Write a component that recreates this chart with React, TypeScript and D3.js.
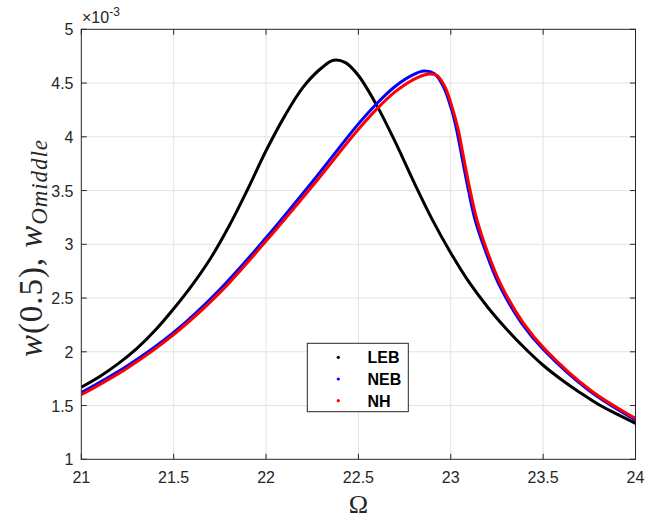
import React from "react";
import * as d3 from "d3";

const X_TICKS = [21, 21.5, 22, 22.5, 23, 23.5, 24];
const Y_TICKS = [1, 1.5, 2, 2.5, 3, 3.5, 4, 4.5, 5];

const LEB_X = [21.0, 21.1, 21.2, 21.3, 21.4, 21.5, 21.6, 21.7, 21.8, 21.9, 22.0, 22.1, 22.2, 22.3, 22.366, 22.43, 22.5, 22.6, 22.7, 22.8, 22.9, 23.0, 23.1, 23.2, 23.3, 23.4, 23.5, 23.6, 23.7, 23.8, 23.9, 24.0];
const LEB_Y = [1.67, 1.77, 1.89, 2.03, 2.20, 2.40, 2.62, 2.87, 3.17, 3.51, 3.87, 4.19, 4.46, 4.64, 4.712, 4.69, 4.57, 4.29, 3.95, 3.58, 3.23, 2.92, 2.645, 2.415, 2.215, 2.035, 1.875, 1.74, 1.62, 1.51, 1.42, 1.335];

const NEB_X = [21.0, 21.25, 21.5, 21.75, 22.0, 22.25, 22.5, 22.6, 22.7, 22.8, 22.855, 22.91, 22.96, 23.005, 23.032, 23.06, 23.096, 23.132, 23.186, 23.258, 23.384, 23.504, 23.745, 24.0];
const NEB_Y = [1.62, 1.87, 2.18, 2.58, 3.06, 3.58, 4.12, 4.31, 4.47, 4.58, 4.612, 4.59, 4.467, 4.25, 4.064, 3.816, 3.5, 3.226, 2.947, 2.637, 2.265, 2.017, 1.645, 1.366];

const NH_X = [21.0, 21.25, 21.5, 21.75, 22.0, 22.25, 22.5, 22.6, 22.7, 22.8, 22.875, 22.925, 22.97, 23.01, 23.04, 23.068, 23.105, 23.142, 23.195, 23.268, 23.394, 23.514, 23.755, 24.0];
const NH_Y = [1.60, 1.85, 2.16, 2.55, 3.03, 3.54, 4.07, 4.26, 4.42, 4.535, 4.582, 4.57, 4.46, 4.26, 4.07, 3.82, 3.5, 3.226, 2.947, 2.637, 2.265, 2.017, 1.645, 1.38];

const SERIES = [
  { name: "LEB", xs: LEB_X, ys: LEB_Y, color: "#000000" },
  { name: "NEB", xs: NEB_X, ys: NEB_Y, color: "#0000ff" },
  { name: "NH", xs: NH_X, ys: NH_Y, color: "#ff0000" },
];

export default function App() {
  const W = 645, H = 518;
  const L = 81.3, R = 635.5, T = 29.3, B = 459.3;
  const x = d3.scaleLinear().domain([21, 24]).range([L, R]);
  const y = d3.scaleLinear().domain([1, 5]).range([B, T]);
  const line = d3
    .line<[number, number]>()
    .x((d) => x(d[0]))
    .y((d) => y(d[1]))
    .curve(d3.curveCatmullRom.alpha(0.5));
  const axisColor = "#262626";
  const grid = "#e3e3e3";
  const tickLen = 5.5;
  const font = "'Liberation Sans', Arial, Helvetica, sans-serif";
  const serif = "'Liberation Serif', 'Times New Roman', serif";

  return (
    <svg width={W} height={H} style={{ position: "absolute", left: 0, top: 0, background: "#fff" }}>
      <rect x={0} y={0} width={W} height={H} fill="#fff" />
      <defs>
        <clipPath id="clip">
          <rect x={L} y={T} width={R - L} height={B - T} />
        </clipPath>
      </defs>
      {X_TICKS.slice(1, -1).map((t) => (
        <line key={"gx" + t} x1={x(t)} x2={x(t)} y1={T} y2={B} stroke={grid} strokeWidth={1} />
      ))}
      {Y_TICKS.slice(1, -1).map((t) => (
        <line key={"gy" + t} x1={L} x2={R} y1={y(t)} y2={y(t)} stroke={grid} strokeWidth={1} />
      ))}
      <g clipPath="url(#clip)">
        {SERIES.map((s) => (
          <path
            key={s.name}
            d={line(s.xs.map((v, i) => [v, s.ys[i]] as [number, number])) || ""}
            fill="none"
            stroke={s.color}
            strokeWidth={3}
            strokeLinejoin="round"
          />
        ))}
      </g>
      <rect x={L} y={T} width={R - L} height={B - T} fill="none" stroke={axisColor} strokeWidth={1} />
      {X_TICKS.map((t) => (
        <g key={"xt" + t}>
          <line x1={x(t)} x2={x(t)} y1={B} y2={B - tickLen} stroke={axisColor} />
          <line x1={x(t)} x2={x(t)} y1={T} y2={T + tickLen} stroke={axisColor} />
          <text x={x(t)} y={483} textAnchor="middle" fontFamily={font} fontSize={16} fill={axisColor}>
            {t}
          </text>
        </g>
      ))}
      {Y_TICKS.map((t) => (
        <g key={"yt" + t}>
          <line x1={L} x2={L + tickLen} y1={y(t)} y2={y(t)} stroke={axisColor} />
          <line x1={R} x2={R - tickLen} y1={y(t)} y2={y(t)} stroke={axisColor} />
          <text x={73.5} y={y(t) + 6} textAnchor="end" fontFamily={font} fontSize={16} fill={axisColor}>
            {t}
          </text>
        </g>
      ))}
      <text x={82} y={23} fontFamily={font} fontSize={16} fill={axisColor}>
        ×10
        <tspan dy={-7} fontSize={12}>-3</tspan>
      </text>
      <text x={358.5} y={513} textAnchor="middle" fontFamily={serif} fontSize={26} fill={axisColor}>
        Ω
      </text>
      <text
        transform="translate(42,357) rotate(-90)"
        x={0}
        y={0}
        fontFamily={serif}
        fontSize={33}
        fill={axisColor}
        textLength={217}
        lengthAdjust="spacing"
      >
        <tspan fontStyle="italic">w</tspan>
        <tspan>(0.5), </tspan>
        <tspan fontStyle="italic">w</tspan>
        <tspan fontStyle="italic" fontSize={23} dy={5}>Omiddle</tspan>
      </text>
      <rect x={307.3} y={343.3} width={101} height={68.4} fill="#fff" stroke={axisColor} strokeWidth={1} />
      {SERIES.map((s, i) => (
        <g key={"lg" + s.name}>
          <circle cx={338.3} cy={357.3 + i * 21.7} r={1.6} fill={s.color} />
          <text x={367.5} y={363.3 + i * 21.7} fontFamily={font} fontSize={16} fontWeight="bold" fill="#000">
            {s.name}
          </text>
        </g>
      ))}
    </svg>
  );
}
